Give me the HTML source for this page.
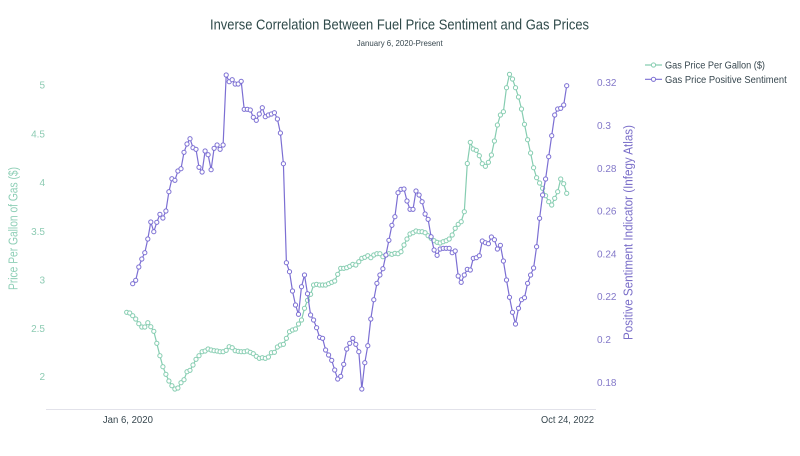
<!DOCTYPE html>
<html>
<head>
<meta charset="utf-8">
<style>
html,body{margin:0;padding:0;background:#fff;}
svg{display:block;}
text{font-family:"Liberation Sans",Arial,sans-serif;}
</style>
</head>
<body>
<svg width="800" height="456" viewBox="0 0 800 456" xmlns="http://www.w3.org/2000/svg">
<defs>
<marker id="mg" markerUnits="userSpaceOnUse" markerWidth="8" markerHeight="8" refX="4" refY="4" viewBox="0 0 8 8">
<circle cx="4" cy="4" r="2.1" fill="#fff" stroke="#86cdb1" stroke-width="1"/>
</marker>
<marker id="mp" markerUnits="userSpaceOnUse" markerWidth="8" markerHeight="8" refX="4" refY="4" viewBox="0 0 8 8">
<circle cx="4" cy="4" r="2.1" fill="#fff" stroke="#7c6fd3" stroke-width="1"/>
</marker>
</defs>
<rect width="800" height="456" fill="#fff"/>

<!-- Titles -->
<text x="399.5" y="29.5" font-size="15" fill="#2f4a4a" text-anchor="middle" textLength="379" lengthAdjust="spacingAndGlyphs">Inverse Correlation Between Fuel Price Sentiment and Gas Prices</text>
<text x="399.7" y="46" font-size="8.5" fill="#37474f" text-anchor="middle" textLength="86" lengthAdjust="spacingAndGlyphs">January 6, 2020-Present</text>

<!-- X axis line -->
<line x1="46" y1="409.5" x2="596" y2="409.5" stroke="#e2e2ea" stroke-width="1"/>
<text x="127.9" y="423" font-size="10" fill="#37474f" text-anchor="middle" textLength="50" lengthAdjust="spacingAndGlyphs">Jan 6, 2020</text>
<text x="567.5" y="423" font-size="10" fill="#37474f" text-anchor="middle" textLength="53" lengthAdjust="spacingAndGlyphs">Oct 24, 2022</text>

<!-- Left axis ticks -->
<g font-size="10" fill="#8dcbb3" text-anchor="end">
<text x="45" y="88.5">5</text>
<text x="45" y="137.5">4.5</text>
<text x="45" y="186.2">4</text>
<text x="45" y="235.2">3.5</text>
<text x="45" y="283.5">3</text>
<text x="45" y="331.8">2.5</text>
<text x="45" y="380.2">2</text>
</g>
<text transform="translate(17.5,228.5) rotate(-90)" font-size="12.5" fill="#8fcfb7" text-anchor="middle" textLength="123" lengthAdjust="spacingAndGlyphs">Price Per Gallon of Gas ($)</text>

<!-- Right axis ticks -->
<g font-size="10" fill="#8378c9" text-anchor="start">
<text x="597" y="86.2">0.32</text>
<text x="597" y="129">0.3</text>
<text x="597" y="171.8">0.28</text>
<text x="597" y="214.6">0.26</text>
<text x="597" y="257.4">0.24</text>
<text x="597" y="300.2">0.22</text>
<text x="597" y="343">0.2</text>
<text x="597" y="385.8">0.18</text>
</g>
<text transform="translate(632.5,232.5) rotate(-90)" font-size="12.5" fill="#7b6fc9" text-anchor="middle" textLength="215" lengthAdjust="spacingAndGlyphs">Positive Sentiment Indicator (Infegy Atlas)</text>

<!-- Legend -->
<line x1="645" y1="65" x2="662" y2="65" stroke="#86cdb1" stroke-width="1.2"/>
<circle cx="653.5" cy="65" r="2.1" fill="#fff" stroke="#86cdb1" stroke-width="1"/>
<text x="665" y="68.5" font-size="10" fill="#37474f" textLength="100" lengthAdjust="spacingAndGlyphs">Gas Price Per Gallon ($)</text>
<line x1="645" y1="79.3" x2="662" y2="79.3" stroke="#7c6fd3" stroke-width="1.2"/>
<circle cx="653.5" cy="79.3" r="2.1" fill="#fff" stroke="#7c6fd3" stroke-width="1"/>
<text x="665" y="82.8" font-size="10" fill="#37474f" textLength="121.7" lengthAdjust="spacingAndGlyphs">Gas Price Positive Sentiment</text>

<!-- Green series -->
<polyline fill="none" stroke="#86cdb1" stroke-width="1.2" stroke-linejoin="round" marker-start="url(#mg)" marker-mid="url(#mg)" marker-end="url(#mg)" points="126.7,312.3 129.7,313 132.7,315.7 135.7,319 138.8,323.7 141.8,327 144.8,327 147.8,322.7 150.8,326.7 153.8,331.3 156.8,343.3 159.9,355.7 162.9,366.7 165.9,374.3 168.9,381 171.9,385.7 174.9,389 177.9,388 181,382.7 184,379.7 187,371.7 190,370.3 193,365 196,359.3 199,355.7 202.1,351.7 205.1,351 208.1,349 211.1,350 214.1,350.7 217.1,351 220.1,351.7 223.1,351.7 226.2,350.3 229.2,346.7 232.2,347.7 235.2,350.7 238.2,351.3 241.2,351.7 244.2,351.7 247.3,351 250.3,352.3 253.3,353.7 256.3,356.3 259.3,358.3 262.3,357.7 265.3,358.3 268.4,357 271.4,352.7 274.4,352.3 277.4,347 280.4,345 283.4,344.3 286.4,338.3 289.5,331.7 292.5,330 295.5,329 298.5,324 301.5,320 304.5,308.3 307.5,300.3 310.6,294.3 313.6,285 316.6,284.3 319.6,285 322.6,285 325.6,285 328.6,283.7 331.7,282.3 334.7,281 337.7,274.3 340.7,268.3 343.7,268.3 346.7,267.7 349.7,266.3 352.8,264.3 355.8,265 358.8,261.7 361.8,258.3 364.8,257.3 367.8,255.7 370.8,257.7 373.8,255 376.9,253.7 379.9,253.7 382.9,256.7 385.9,255 388.9,253.7 391.9,254.3 394.9,253.3 398,253.7 401,251.7 404,245 407,239 410,234 413,232.7 416,231 419.1,231.7 422.1,231.7 425.1,232.7 428.1,235.7 431.1,238.3 434.1,240.7 437.1,242.3 440.2,243 443.2,241.7 446.2,240.7 449.2,239 452.2,235 455.2,228.3 458.2,224.3 461.2,221.7 464.3,211.7 467.3,163.5 470.3,142.3 473.3,149 476.3,150.3 479.3,155.7 482.3,163.7 485.4,166.3 488.4,162.3 491.4,155 494.4,141 497.4,125 500.4,115 503.4,111.7 506.5,87.7 509.5,74.3 512.5,79 515.5,87.7 518.5,97 521.5,109 524.5,124.3 527.6,139.7 530.6,153 533.6,167.7 536.6,177.7 539.6,183 542.6,188.3 545.6,195.7 548.7,201.7 551.7,205 554.7,198.3 557.7,191.7 560.7,179 563.7,183.7 566.7,193.3"/>

<!-- Purple series -->
<polyline fill="none" stroke="#7c6fd3" stroke-width="1.2" stroke-linejoin="round" marker-start="url(#mp)" marker-mid="url(#mp)" marker-end="url(#mp)" points="132.7,283.7 135.7,280.3 138.8,267 141.8,259 144.8,252.7 147.8,239 150.8,222 153.8,231.7 156.8,222.3 159.9,214.3 162.9,218 165.9,211 168.9,191.7 171.9,178.7 174.9,180.3 177.9,171 181,168.7 184,152.3 187,144 190,138.7 193,147.7 196,149.3 199,167.3 202.1,172 205.1,151 208.1,154.7 211.1,169.7 214.1,148.3 217.1,145 220.1,149.3 223.1,145 226.2,75 229.2,81.7 232.2,79.7 235.2,84 238.2,84 241.2,81.3 244.2,109.3 247.3,109.3 250.3,110 253.3,117.3 256.3,120.3 259.3,114 262.3,107.7 265.3,116.7 268.4,115 271.4,114 274.4,112.7 277.4,119 280.4,133 283.4,163.7 286.4,262.7 289.5,271.7 292.5,291 295.5,305 298.5,314.3 301.5,286.7 304.5,275 307.5,293.7 310.6,315 313.6,320 316.6,327.7 319.6,337.3 322.6,338.3 325.6,350 328.6,355 331.7,360.3 334.7,370 337.7,379 340.7,376.3 343.7,364.3 346.7,349 349.7,343.3 352.8,338.3 355.8,344.3 358.8,351.7 361.8,389 364.8,362.7 367.8,345.7 370.8,319 373.8,299.7 376.9,283.3 379.9,275 382.9,268.7 385.9,255 388.9,240.3 391.9,225.3 394.9,216.7 398,192.7 401,189.3 404,189 407,201 410,209.3 413,209.3 416,191 419.1,195 422.1,201.7 425.1,214 428.1,219.3 431.1,236.7 434.1,250 437.1,255.3 440.2,249 443.2,248.3 446.2,248.3 449.2,248.3 452.2,252.7 455.2,251 458.2,276 461.2,282.3 464.3,275 467.3,269.3 470.3,270 473.3,258.3 476.3,257.7 479.3,255.7 482.3,241 485.4,242.7 488.4,243.7 491.4,237 494.4,239.7 497.4,249 500.4,245.3 503.4,261 506.5,280 509.5,297.3 512.5,312.3 515.5,324 518.5,308.3 521.5,299.7 524.5,297.7 527.6,283.3 530.6,275 533.6,268 536.6,246.7 539.6,218.3 542.6,195 545.6,179 548.7,156.7 551.7,135.7 554.7,115 557.7,109 560.7,108.3 563.7,105 566.7,85.7"/>
</svg>
</body>
</html>
